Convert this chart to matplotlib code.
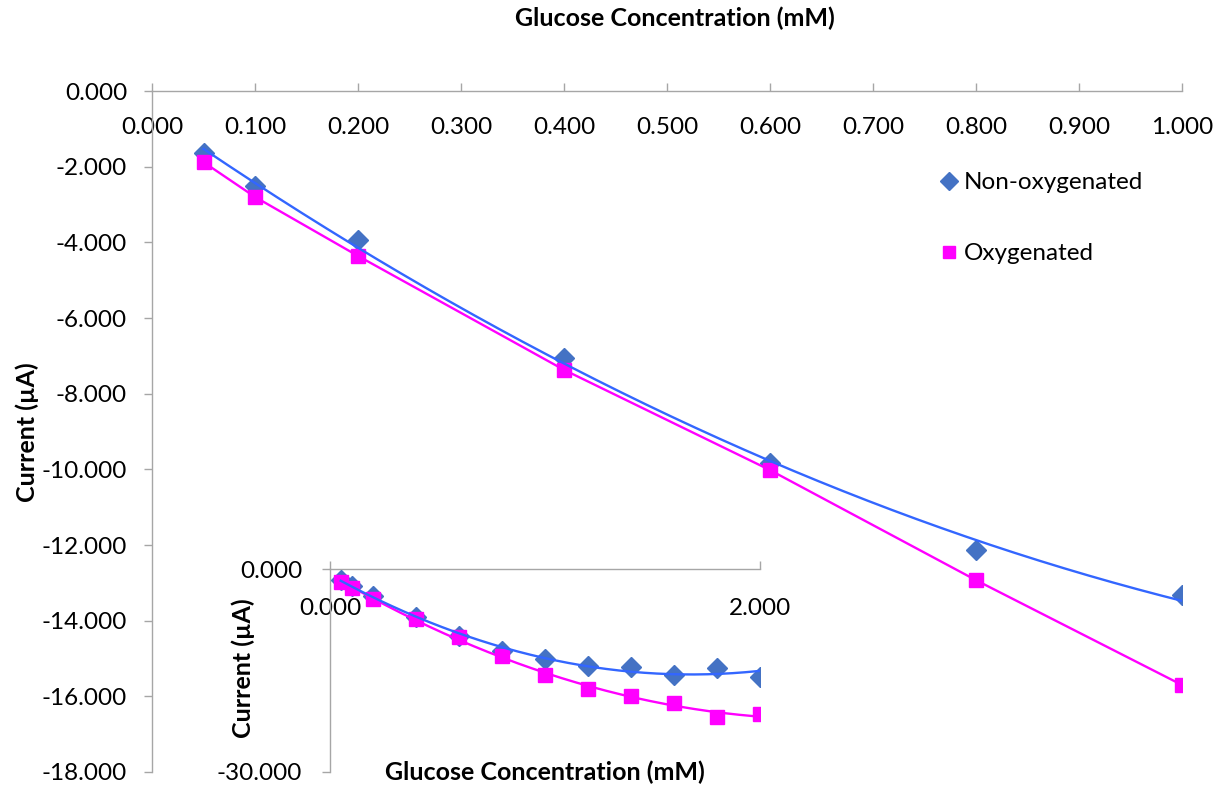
import numpy as np
import matplotlib
matplotlib.use("Agg")
import matplotlib.pyplot as plt
from matplotlib.lines import Line2D
from matplotlib.ticker import FormatStrFormatter

plt.rcParams['font.family'] = ['Lato', 'DejaVu Sans']
plt.rcParams['axes.unicode_minus'] = False

# Glucose concentration (mM) and measured current (uA)
conc = [0.05, 0.1, 0.2, 0.4, 0.6, 0.8, 1.0, 1.2, 1.4, 1.6, 1.8, 2.0]
non_oxygenated = [-1.64, -2.51, -3.94, -7.06, -9.83, -12.13, -13.32,
                  -14.3, -14.5, -15.7, -14.6, -15.9]
oxygenated = [-1.88, -2.80, -4.36, -7.37, -10.02, -12.93, -15.70,
              -17.7, -18.7, -19.8, -21.9, -21.4]

main_xticks = [0.0, 0.1, 0.2, 0.3, 0.4, 0.5, 0.6, 0.7, 0.8, 0.9, 1.0]
main_yticks = [0, -2, -4, -6, -8, -10, -12, -14, -16, -18]
inset_xticks = [0.0, 2.0]
inset_yticks = [0, -30]

xlabel = "Glucose Concentration (mM)"
ylabel = "Current (\u00b5A)"

BLUE_MK = '#4472C4'
BLUE_LN = '#3366FF'
MAGENTA = '#FF00FF'
GREY = '#A6A6A6'
FS = 17.5
FS_BOLD = 18

W, H = 1231, 788
fig = plt.figure(figsize=(W / 100, H / 100), dpi=100)


def px_axes(left, top, right, bottom):
    return fig.add_axes([left / W, 1 - bottom / H, (right - left) / W, (bottom - top) / H])


def style_axes(ax, xt, yt, xlim, ylim, xpad, ypad):
    ax.set_xlim(*xlim)
    ax.set_ylim(*ylim)
    for s in ('bottom', 'right'):
        ax.spines[s].set_visible(False)
    for s in ('top', 'left'):
        ax.spines[s].set_color(GREY)
        ax.spines[s].set_linewidth(1.0)
    ax.set_xticks(xt)
    ax.set_yticks(yt)
    ax.xaxis.set_major_formatter(FormatStrFormatter('%.3f'))
    ax.yaxis.set_major_formatter(FormatStrFormatter('%.3f'))
    ax.tick_params(axis='x', top=True, labeltop=True, bottom=False, labelbottom=False,
                   direction='out', length=6, width=1.0, color=GREY,
                   labelsize=FS, pad=xpad)
    ax.tick_params(axis='y', left=True, direction='out', length=6, width=1.0,
                   color=GREY, labelsize=FS, pad=ypad)
    ax.patch.set_alpha(0)


# ---- main chart (0 - 1 mM) ----
ax = px_axes(152, 91, 1182, 772)
style_axes(ax, main_xticks, main_yticks, (0, 1.0), (-18, 0), -40, 12)

x = np.array(conc)
nox = np.array(non_oxygenated)
ox = np.array(oxygenated)
m = x <= 1.0

ax.plot(x[m], nox[m], ls='none', marker='D', ms=10.5, color=BLUE_MK, zorder=3)
ax.plot(x[m], ox[m], ls='none', marker='s', ms=10.5, color=MAGENTA, zorder=3)
ax.plot(x[m], ox[m], ls='-', lw=1.7, color=MAGENTA, zorder=4)
cf = np.polyfit(x[m], nox[m], 2)
xs = np.linspace(x[m].min(), x[m].max(), 200)
ax.plot(xs, np.polyval(cf, xs), lw=1.7, color=BLUE_LN, zorder=5)

fig.text(675 / W, 1 - 18 / H, xlabel, ha='center', va='center',
         fontsize=FS_BOLD, fontweight='bold')
fig.text(27 / W, 1 - 432 / H, ylabel, ha='center', va='center', rotation=90,
         fontsize=FS_BOLD, fontweight='bold')

handles = [
    Line2D([], [], ls='none', marker='D', ms=9, color=BLUE_MK),
    Line2D([], [], ls='none', marker='s', ms=9, color=MAGENTA),
]
fig.legend(handles, ['Non-oxygenated', 'Oxygenated'], loc='upper left',
           bbox_to_anchor=(930 / W, 1 - 160 / H), frameon=False, fontsize=FS,
           handlelength=0.6, handletextpad=0.3, labelspacing=2.05, borderpad=0)

# ---- inset chart (0 - 2 mM) ----
ax2 = px_axes(330, 569, 760, 772)
style_axes(ax2, inset_xticks, inset_yticks, (0, 2.0), (-30, 0), -42, 14)
ax2.set_facecolor('white')
ax2.patch.set_alpha(1)

ax2.plot(x, nox, ls='none', marker='D', ms=10, color=BLUE_MK, zorder=3)
ax2.plot(x, ox, ls='none', marker='s', ms=10.5, color=MAGENTA, zorder=3)
xs2 = np.linspace(x.min(), x.max(), 200)
ax2.plot(xs2, np.polyval(np.polyfit(x, ox, 2), xs2), lw=1.7, color=MAGENTA, zorder=4)
ax2.plot(xs2, np.polyval(np.polyfit(x, nox, 2), xs2), lw=1.7, color=BLUE_LN, zorder=5)
for t in ax2.get_xticklabels() + ax2.get_yticklabels():
    t.set_clip_on(False)

fig.text(545 / W, 1 - 772 / H, xlabel, ha='center', va='center',
         fontsize=FS_BOLD, fontweight='bold')
fig.text(243 / W, 1 - 668 / H, ylabel, ha='center', va='center', rotation=90,
         fontsize=FS_BOLD, fontweight='bold')

fig.savefig('out.png', dpi=100)
